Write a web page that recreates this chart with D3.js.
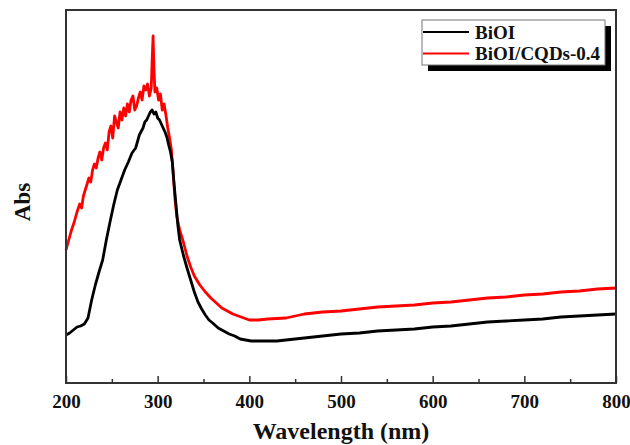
<!DOCTYPE html>
<html><head><meta charset="utf-8">
<script src="https://cdn.jsdelivr.net/npm/d3@7"></script>
<style>body{margin:0;background:#fff}svg{display:block}text{font-family:"Liberation Serif","Times New Roman",serif;font-weight:bold}</style>
</head><body><svg id="c" width="630" height="445"></svg>
<script>
const xTicks = [200,300,400,500,600,700,800];
const xMinor = [250,350,450,550,650,750];
const seriesNames = ["BiOI","BiOI/CQDs-0.4"];
const seriesColors = ["#000000","#ff0000"];
const wlBiOI = [200,204,208,212,216,220,224,228,232,236,240,244,248,252,256,260,264,268,272,276,280,284,286,288,290,292,294,296,298,300,302,304,306,308,310,312,314,316,318,320,322,324,328,332,336,340,344,348,352,356,360,366,372,378,384,390,396,402,410,420,430,440,460,480,500,520,540,560,580,600,620,640,660,680,700,720,740,760,780,800];
const absBiOI = [0.48,0.50,0.53,0.56,0.57,0.59,0.65,0.83,0.98,1.11,1.23,1.43,1.61,1.78,1.93,2.03,2.13,2.21,2.30,2.35,2.48,2.55,2.61,2.63,2.67,2.71,2.73,2.69,2.71,2.65,2.63,2.59,2.55,2.51,2.46,2.38,2.31,2.21,1.98,1.78,1.58,1.43,1.28,1.15,1.03,0.91,0.81,0.74,0.68,0.63,0.60,0.55,0.52,0.49,0.47,0.44,0.43,0.42,0.42,0.42,0.42,0.43,0.45,0.47,0.49,0.50,0.52,0.53,0.54,0.56,0.57,0.59,0.61,0.62,0.63,0.64,0.66,0.67,0.68,0.69];
const wlCQD = [200,203,206,209,212,215,217,219,221,223,225,227,229,231,233,235,237,239,241,243,245,247,249,251,253,255,257,259,261,263,265,267,269,271,273,275,277,279,281,283,285,287,289,291,293,294,295,296,297,299,301,303,305,307,309,311,313,315,317,319,321,324,328,332,336,340,346,352,358,364,370,376,382,388,394,400,410,420,440,460,480,500,520,540,560,580,600,620,640,660,680,700,720,740,760,780,800];
const absCQD = [1.33,1.43,1.53,1.61,1.71,1.79,1.75,1.87,1.93,1.99,2.05,2.01,2.13,2.19,2.15,2.25,2.31,2.23,2.35,2.40,2.33,2.51,2.57,2.45,2.67,2.61,2.55,2.71,2.63,2.75,2.67,2.79,2.71,2.83,2.87,2.73,2.77,2.85,2.91,2.83,2.97,2.93,2.99,2.87,2.95,3.23,3.47,3.13,2.91,2.95,2.83,2.89,2.73,2.79,2.68,2.55,2.45,2.33,2.08,1.83,1.66,1.53,1.41,1.27,1.16,1.07,0.98,0.91,0.85,0.80,0.75,0.72,0.69,0.67,0.65,0.63,0.63,0.64,0.65,0.69,0.71,0.72,0.74,0.76,0.77,0.78,0.80,0.81,0.83,0.85,0.86,0.88,0.89,0.91,0.92,0.94,0.95];

const svg = d3.select("#c");
const L=66,R=616,T=10,B=383;
const x = d3.scaleLinear().domain([200,800]).range([L,R]);
const y = d3.scaleLinear().domain([0,3.73]).range([B,T]);

const line = d3.line().x(d=>x(d[0])).y(d=>y(d[1]));
const series = [d3.zip(wlBiOI,absBiOI), d3.zip(wlCQD,absCQD)];
[1,0].forEach(i=>{
  svg.append("path").datum(series[i]).attr("d",line).attr("fill","none")
    .attr("stroke",seriesColors[i]).attr("stroke-width",2.8).attr("stroke-linejoin","round");
});

// frame
svg.append("rect").attr("x",L).attr("y",T).attr("width",R-L).attr("height",B-T)
  .attr("fill","none").attr("stroke","#333").attr("stroke-width",2);

// x axis ticks inward
const ax = svg.append("g").attr("transform",`translate(0,${B})`)
  .call(d3.axisBottom(x).tickValues(xTicks).tickSize(-7).tickFormat(d3.format("d")));
ax.select(".domain").remove();
ax.selectAll(".tick line").attr("stroke","#333").attr("stroke-width",1.5);
ax.selectAll("text").attr("y",25).attr("dy",0).attr("font-size",19).attr("fill","#111")
  .style("font-family","Liberation Serif").style("font-weight","bold");
svg.append("g").attr("transform",`translate(0,${B})`)
  .call(d3.axisBottom(x).tickValues(xMinor).tickSize(-4).tickFormat(""))
  .call(g=>{g.select(".domain").remove();g.selectAll(".tick line").attr("stroke","#333").attr("stroke-width",1.5);});

// axis titles
svg.append("text").attr("x",341).attr("y",439).attr("text-anchor","middle")
  .attr("font-size",24).attr("fill","#111").text("Wavelength (nm)");
svg.append("text").attr("transform",`translate(30,202) rotate(-90)`).attr("text-anchor","middle")
  .attr("font-size",23).attr("fill","#111").text("Abs");

// legend
const lg = svg.append("g");
lg.append("rect").attr("x",428).attr("y",26).attr("width",183).attr("height",45).attr("fill","#000");
lg.append("rect").attr("x",422).attr("y",20).attr("width",183).attr("height",45).attr("fill","#fff").attr("stroke","#777").attr("stroke-width",1);
seriesNames.forEach((n,i)=>{
  const yy = 32 + i*21.5;
  lg.append("line").attr("x1",423).attr("x2",469).attr("y1",yy).attr("y2",yy)
    .attr("stroke",seriesColors[i]).attr("stroke-width",2);
  lg.append("text").attr("x",475).attr("y",yy+6.5).attr("font-size",19).attr("fill","#111").text(n);
});
</script></body></html>
